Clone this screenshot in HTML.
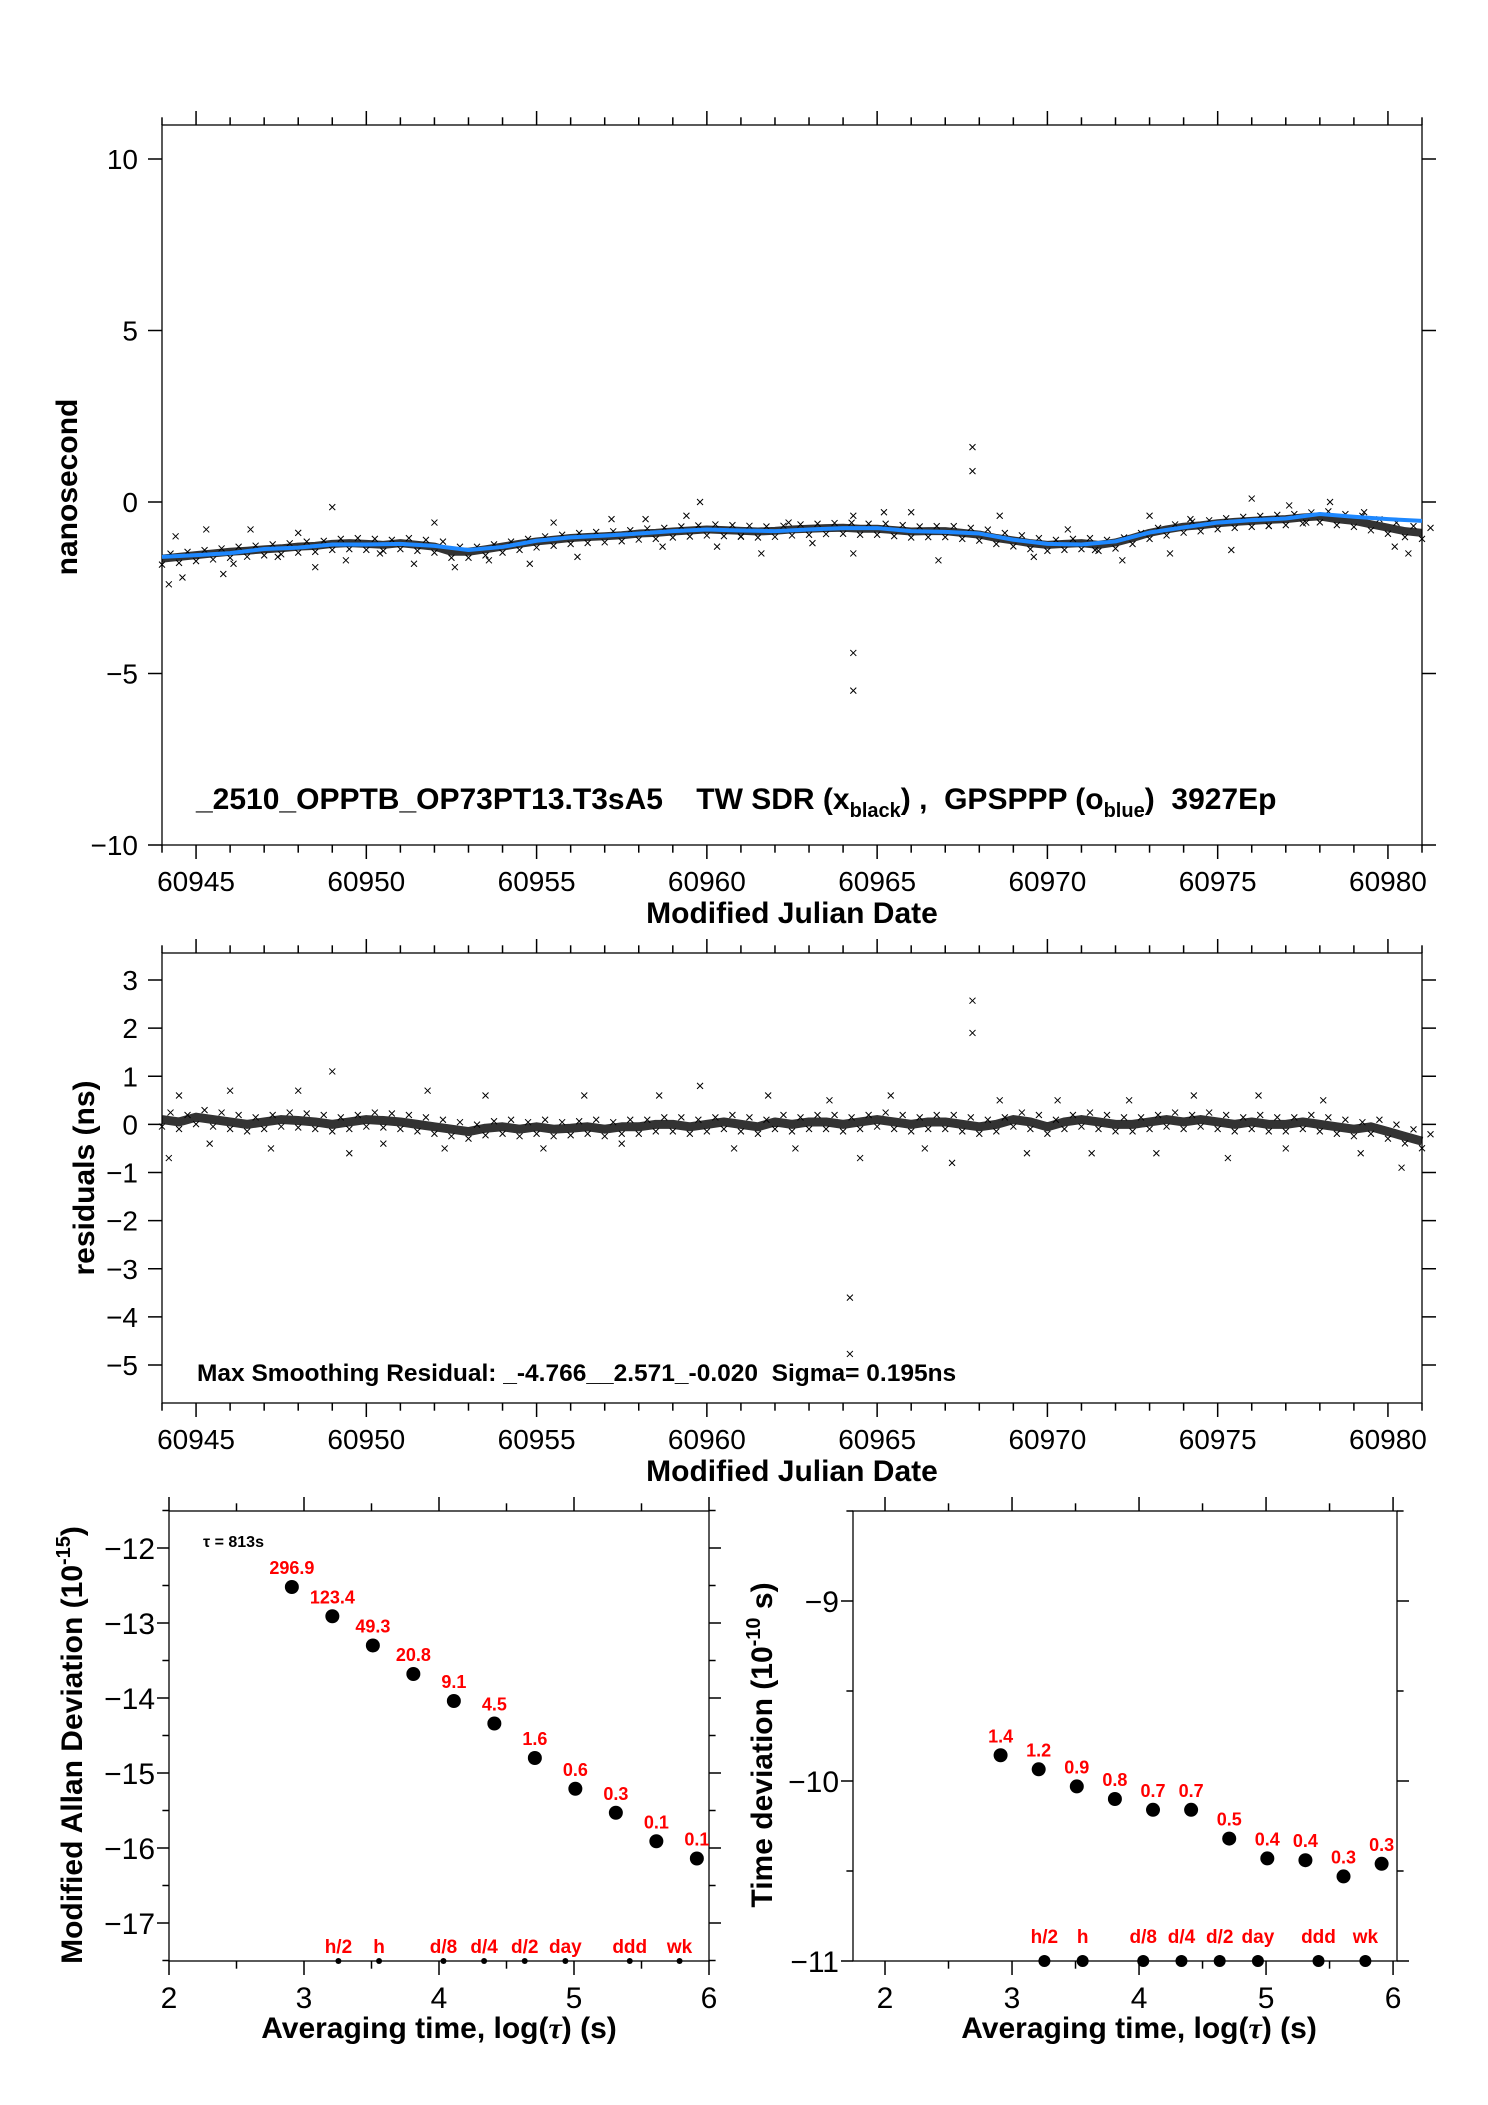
<!DOCTYPE html>
<html><head><meta charset="utf-8"><style>
html,body{margin:0;padding:0;background:#fff}
svg{display:block}
text{font-family:"Liberation Sans",sans-serif}
.b{font-family:"Liberation Sans",sans-serif;font-weight:bold}
</style></head><body>
<svg id="s" width="1488" height="2105" viewBox="0 0 1488 2105" xmlns="http://www.w3.org/2000/svg"></svg>
<script>
// ---- data ----
const blueMJD0 = 60944, blueStep = 1;
const blueVals = [-1.60,-1.55,-1.49,-1.37,-1.33,-1.24,-1.24,-1.22,-1.28,-1.40,-1.31,-1.13,-1.03,-0.98,-0.92,-0.85,-0.80,-0.83,-0.85,-0.80,-0.76,-0.76,-0.85,-0.87,-0.92,-1.10,-1.22,-1.24,-1.15,-0.89,-0.74,-0.60,-0.53,-0.48,-0.35,-0.43,-0.50,-0.55];
const blackMJD0 = 60944, blackStep = 0.5;
const blackVals = [-1.65,-1.60,-1.55,-1.50,-1.45,-1.42,-1.38,-1.35,-1.30,-1.28,-1.22,-1.20,-1.22,-1.25,-1.20,-1.25,-1.30,-1.45,-1.45,-1.38,-1.30,-1.22,-1.15,-1.10,-1.05,-1.02,-1.00,-0.97,-0.92,-0.90,-0.86,-0.83,-0.80,-0.82,-0.84,-0.86,-0.84,-0.80,-0.78,-0.76,-0.75,-0.78,-0.78,-0.82,-0.86,-0.85,-0.85,-0.90,-0.95,-1.05,-1.12,-1.20,-1.25,-1.22,-1.20,-1.25,-1.18,-1.05,-0.90,-0.80,-0.72,-0.68,-0.62,-0.58,-0.55,-0.52,-0.50,-0.45,-0.42,-0.50,-0.55,-0.65,-0.75,-0.85,-0.90];
const outX = [60944.2,60944.4,60944.6,60945.3,60945.8,60946.1,60946.6,60947.4,60948.0,60948.5,60949.0,60949.4,60950.4,60951.4,60952.0,60952.6,60953.6,60954.8,60955.5,60956.2,60957.2,60958.2,60958.7,60959.4,60959.8,60960.3,60961.0,60961.6,60962.4,60963.1,60964.3,60964.3,60964.3,60964.3,60965.2,60966.0,60966.8,60967.8,60967.8,60968.6,60969.6,60970.6,60971.4,60972.2,60973.0,60973.6,60974.2,60975.4,60976.0,60976.5,60977.1,60977.6,60978.3,60979.3,60980.2,60980.6];
const outY = [-2.4,-1.0,-2.2,-0.8,-2.1,-1.8,-0.8,-1.6,-0.9,-1.9,-0.15,-1.7,-1.5,-1.8,-0.6,-1.9,-1.7,-1.8,-0.6,-1.6,-0.5,-0.5,-1.3,-0.4,-0.0,-1.3,-1.0,-1.5,-0.6,-1.2,-4.4,-5.5,-1.5,-0.4,-0.3,-0.3,-1.7,1.6,0.9,-0.4,-1.6,-0.8,-1.4,-1.7,-0.4,-1.5,-0.5,-1.4,0.1,-0.7,-0.1,-0.6,0.0,-0.3,-1.3,-1.5];
const resMJD0 = 60944, resStep = 0.5;
const resVals = [0.10,0.05,0.15,0.10,0.05,0.0,0.05,0.10,0.08,0.05,0.0,0.05,0.10,0.08,0.05,0.0,-0.05,-0.10,-0.15,-0.08,-0.05,-0.10,-0.05,-0.10,-0.08,-0.05,-0.10,-0.05,-0.05,0.0,0.0,-0.05,0.0,0.05,0.0,-0.05,0.05,0.0,0.05,0.05,0.0,0.05,0.10,0.05,0.0,0.05,0.05,0.0,-0.05,0.0,0.10,0.05,-0.05,0.05,0.10,0.05,0.0,0.0,0.05,0.10,0.05,0.10,0.05,0.0,0.05,0.0,0.0,0.05,0.0,-0.05,-0.10,-0.05,-0.15,-0.25,-0.35];
const resOutX = [60944.2,60944.5,60945.4,60946.0,60947.2,60948.0,60949.0,60949.5,60950.5,60951.8,60952.3,60953.5,60955.2,60956.4,60957.5,60958.6,60959.8,60960.8,60961.8,60962.6,60963.6,60964.2,60964.2,60964.5,60965.4,60966.4,60967.2,60967.8,60967.8,60968.6,60969.4,60970.3,60971.3,60972.4,60973.2,60974.3,60975.3,60976.2,60977.0,60978.1,60979.2,60980.4];
const resOutY = [-0.7,0.6,-0.4,0.7,-0.5,0.7,1.1,-0.6,-0.4,0.7,-0.5,0.6,-0.5,0.6,-0.4,0.6,0.8,-0.5,0.6,-0.5,0.5,-3.6,-4.77,-0.7,0.6,-0.5,-0.8,2.57,1.9,0.5,-0.6,0.5,-0.6,0.5,-0.6,0.6,-0.7,0.6,-0.5,0.5,-0.6,-0.9];
const logTau = [2.91,3.21,3.51,3.81,4.11,4.41,4.71,5.01,5.31,5.61,5.91];
const adevVals = [-12.52,-12.91,-13.30,-13.68,-14.04,-14.34,-14.80,-15.21,-15.53,-15.91,-16.14];
const adevLabels = ["296.9","123.4","49.3","20.8","9.1","4.5","1.6","0.6","0.3","0.1","0.1"];
const tdevVals = [-9.857,-9.935,-10.03,-10.10,-10.16,-10.16,-10.32,-10.43,-10.44,-10.53,-10.46];
const tdevLabels = ["1.4","1.2","0.9","0.8","0.7","0.7","0.5","0.4","0.4","0.3","0.3"];
const markNames = ["h/2","h","d/8","d/4","d/2","day","ddd","wk"];
const markLog = [3.255,3.556,4.033,4.334,4.635,4.936,5.413,5.782];
const mjdTicks = [60945,60950,60955,60960,60965,60970,60975,60980];
const topYTicks = [10,5,0,-5,-10];
const resYTicks = [3,2,1,0,-1,-2,-3,-4,-5];
const adevYTicks = [-12,-13,-14,-15,-16,-17];
const tdevYTicks = [-9,-10,-11];
const logXTicks = [2,3,4,5,6];

// ---- helpers ----
const S = document.getElementById('s');
const NS = 'http://www.w3.org/2000/svg';
function mk(tag, attrs, parent, txt){
  const e = document.createElementNS(NS, tag);
  for (const k in attrs) e.setAttribute(k, attrs[k]);
  if (txt !== undefined) e.innerHTML = txt;
  (parent || S).appendChild(e);
  return e;
}
function lin(d0,d1,r0,r1){ return v => r0 + (v-d0)*(r1-r0)/(d1-d0); }

function frame(g, L, T, R, B){
  const r = mk('rect',{x:L,y:T,width:R-L,height:B-T,fill:'none',stroke:'#000','stroke-width':1.3},g);
  
  
}
function xTicks(g, xs, T, B, from, to, step, majorEvery, len){
  for (let v=from; v<=to+1e-9; v+=step){
    const major = Math.abs((v/majorEvery)-Math.round(v/majorEvery))<1e-6;
    const l = major?len:len*0.55;
    const x = xs(v);
    mk('line',{x1:x,y1:T,x2:x,y2:T-l,stroke:'#000','stroke-width':1.5},g);
    mk('line',{x1:x,y1:B,x2:x,y2:B+l,stroke:'#000','stroke-width':1.5},g);
  }
}
function yTicks(g, ys, L, R, from, to, step, majorEvery, len){
  for (let v=from; v<=to+1e-9; v+=step){
    const major = Math.abs((v/majorEvery)-Math.round(v/majorEvery))<1e-6;
    const l = major?len:len*0.55;
    const y = ys(v);
    mk('line',{x1:L,y1:y,x2:L-l,y2:y,stroke:'#000','stroke-width':1.5},g);
    mk('line',{x1:R,y1:y,x2:R+l,y2:y,stroke:'#000','stroke-width':1.5},g);
  }
}
function xMark(g, x, y, s, col){
  const p = mk('path',{d:`M${x-s},${y-s}L${x+s},${y+s}M${x-s},${y+s}L${x+s},${y-s}`,stroke:col||'#000','stroke-width':1},g);
  
  
}

// ---- top panel ----
(function(){
  const g = mk('g',{});
  
  
  const L=162,R=1422,T=125,B=845;
  const xs = lin(60944,60981,L,R), ys = lin(-10,10,845,159);
  frame(g,L,T,R,B);
  xTicks(g,xs,T,B,60944,60981,1,5,14);
  yTicks(g,ys,L,R,-10,10,5,5,14);
  mjdTicks.forEach(v=>{const t=mk('text',{x:xs(v),y:891,'font-size':28,'text-anchor':'middle'},g,v);});
  topYTicks.forEach(v=>{const t=mk('text',{x:138,y:ys(v)+10,'font-size':28,'text-anchor':'end'},g,v<0?'\u2212'+(-v):v);});
  let pts = blackVals.map((v,i)=>xs(blackMJD0+i*blackStep)+','+ys(v)).join(' ');
  const band = mk('polyline',{points:pts,fill:'none',stroke:'#000','stroke-width':8,'stroke-opacity':0.8,'stroke-linejoin':'round'},g);
  
  
  blackVals.forEach((v,i)=>{xMark(g,xs(blackMJD0+i*blackStep),ys(v)+6,3);xMark(g,xs(blackMJD0+i*blackStep+0.25),ys(v)-5,3);});
  outX.forEach((x,i)=>xMark(g,xs(x),ys(outY[i]),3));
  pts = blueVals.map((v,i)=>xs(blueMJD0+i*blueStep)+','+ys(v)).join(' ');
  const bl = mk('polyline',{points:pts,fill:'none',stroke:'#1e88ff','stroke-width':4,'stroke-linejoin':'round'},g);
  
  
  const t1 = mk('text',{x:196,y:809,'font-size':30,class:'b'},g,'_2510_OPPTB_OP73PT13.T3sA5 &#160;&#160; TW SDR (x<tspan font-size="20" dy="8">black</tspan><tspan dy="-8">) ,&#160; GPSPPP (o</tspan><tspan font-size="20" dy="8">blue</tspan><tspan dy="-8">)&#160; 3927Ep</tspan>');
  
  const xt = mk('text',{x:792,y:923,'font-size':30,'text-anchor':'middle',class:'b'},g,'Modified Julian Date');
  
  const yt = mk('text',{x:0,y:0,'font-size':30,'text-anchor':'middle',class:'b',transform:'translate(77,487) rotate(-90)'},g,'nanosecond');
  
})();

// ---- residuals panel ----
(function(){
  const g = mk('g',{});
  
  
  const L=162,R=1422,T=953,B=1403;
  const xs = lin(60944,60981,L,R), ys = lin(-5,3,1365,980);
  frame(g,L,T,R,B);
  xTicks(g,xs,T,B,60944,60981,1,5,14);
  yTicks(g,ys,L,R,-5,3,1,1,14);
  mjdTicks.forEach(v=>{const t=mk('text',{x:xs(v),y:1449,'font-size':28,'text-anchor':'middle'},g,v);});
  resYTicks.forEach(v=>{const t=mk('text',{x:138,y:ys(v)+10,'font-size':28,'text-anchor':'end'},g,v<0?'\u2212'+(-v):v);});
  const pts = resVals.map((v,i)=>xs(resMJD0+i*resStep)+','+ys(v)).join(' ');
  const band = mk('polyline',{points:pts,fill:'none',stroke:'#000','stroke-width':9,'stroke-opacity':0.8,'stroke-linejoin':'round'},g);
  
  
  resVals.forEach((v,i)=>{xMark(g,xs(resMJD0+i*resStep),ys(v)+7,3);xMark(g,xs(resMJD0+i*resStep+0.25),ys(v)-7,3);});
  resOutX.forEach((x,i)=>xMark(g,xs(x),ys(resOutY[i]),3));
  const t1 = mk('text',{x:197,y:1381,'font-size':24.5,class:'b'},g,'Max Smoothing Residual: _-4.766__2.571_-0.020&#160; Sigma= 0.195ns');
  
  const xt = mk('text',{x:792,y:1481,'font-size':30,'text-anchor':'middle',class:'b'},g,'Modified Julian Date');
  
  const yt = mk('text',{x:0,y:0,'font-size':30,'text-anchor':'middle',class:'b',transform:'translate(94,1178) rotate(-90)'},g,'residuals (ns)');
  
})();

// ---- stability panels ----
function stab(name, L,R, x0,x1, y0v,y0p,y1v,y1p, yTop,yBot, vals, labels, yticks, minorStep, dotR, markY, markDotR, ylab, ylabX){
  const g = mk('g',{});
  
  
  const T=1511,B=1961;
  const xs = lin(x0,x1,L,R);
  const yS = lin(y0v,y1v,y0p,y1p);
  frame(g,L,T,R,B);
  xTicks(g,xs,T,B,Math.ceil(x0*2)/2,x1,0.5,1,14);
  yTicks(g,yS,L,R,yBot,yTop,minorStep,1,12);
  logXTicks.forEach(v=>{const t=mk('text',{x:xs(v),y:2008,'font-size':30,'text-anchor':'middle'},g,v);});
  yticks.forEach(v=>{const t=mk('text',{x:L-14,y:yS(v)+11,'font-size':30,'text-anchor':'end'},g,'\u2212'+(-v));});
  logTau.forEach((lt,i)=>{
    const c = mk('circle',{cx:xs(lt),cy:yS(vals[i]),r:dotR,fill:'#000'},g);
    
    const t = mk('text',{x:xs(lt),y:yS(vals[i])-dotR-6,'font-size':18,'text-anchor':'middle',fill:'#f00',class:'b'},g,labels[i]);
    
  });
  markLog.forEach((lt,i)=>{
    const c = mk('circle',{cx:xs(lt),cy:B,r:markDotR,fill:'#000'},g);
    
    const t = mk('text',{x:xs(lt),y:markY,'font-size':19,'text-anchor':'middle',fill:'#f00',class:'b'},g,markNames[i]);
    
  });
  const xt = mk('text',{x:(xs(2)+xs(6))/2,y:2038,'font-size':30,'text-anchor':'middle',class:'b'},g,'Averaging time, log(<tspan font-family="Liberation Serif" font-style="italic">τ</tspan>) (s)');
  
  const yt = mk('text',{x:0,y:0,'font-size':30,'text-anchor':'middle',class:'b',transform:`translate(${ylabX},1745) rotate(-90)`},g,ylab);
  
  return {g,xs,yS};
}
const a = stab('modified-allan-deviation-panel',169,709,2,6,-12,1548,-17,1923,-11.5,-17.5,adevVals,adevLabels,adevYTicks,0.5,7,1953,3,
 'Modified Allan Deviation (10<tspan font-size="20" dy="-12">-15</tspan><tspan dy="12">)</tspan>',82);
const tl = mk('text',{x:203,y:1547,'font-size':16,class:'b'},a.g,'τ = 813s');

stab('time-deviation-panel',853,1397,1.748,6.031,-9,1601,-11,1961,-8.5,-11,tdevVals,tdevLabels,tdevYTicks,0.5,7,1943,6,
 'Time deviation (10<tspan font-size="20" dy="-12">-10</tspan><tspan dy="12"> s)</tspan>',772);
</script>
</body></html>
